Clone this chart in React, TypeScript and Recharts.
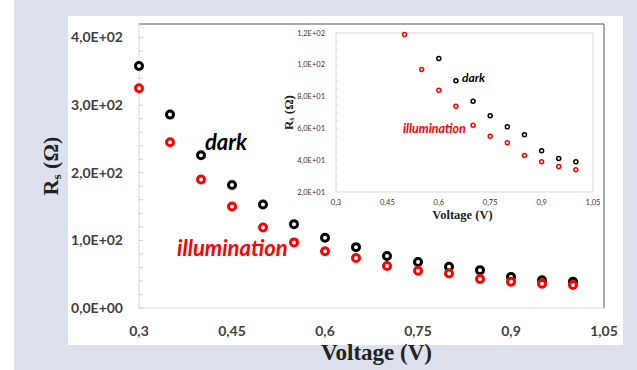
import { ScatterChart, Scatter, XAxis, YAxis, ReferenceLine, Label } from 'recharts';

const voltage = [0.3, 0.35, 0.4, 0.45, 0.5, 0.55, 0.6, 0.65, 0.7, 0.75, 0.8, 0.85, 0.9, 0.95, 1.0];
const rsDark = [358, 286, 226, 182, 153, 124, 104, 90, 77, 68, 61, 56, 46, 41, 39];
const rsIllum = [325, 245, 190, 150, 119, 97, 84, 74, 62, 55, 51, 43, 39, 36, 34];

const xTicks = [0.3, 0.45, 0.6, 0.75, 0.9, 1.05];
const yTicks = [0, 100, 200, 300, 400];
const yMinor = [0, 20, 40, 60, 80, 100, 120, 140, 160, 180, 200, 220, 240, 260, 280, 300, 320, 340, 360, 380, 400];
const insetYTicks = [20, 40, 60, 80, 100, 120];
const insetYMinor = [20, 25, 30, 35, 40, 45, 50, 55, 60, 65, 70, 75, 80, 85, 90, 95, 100, 105, 110, 115, 120];

const BG = '#dde1ee';
const SERIF = '"Liberation Serif", "Times New Roman", serif';
const SANS = 'Lato, "Open Sans", sans-serif';

const darkPts = voltage.map((v, i) => ({ x: v, y: rsDark[i] }));
const illumPts = voltage.map((v, i) => ({ x: v, y: rsIllum[i] }));
// inset shows only the zoomed range
const insetDark = darkPts.filter((p) => p.y <= 120);
const insetIllum = illumPts.filter((p) => p.y <= 120);

const fmtSci = (v: number) => {
  const [m, e] = v.toExponential(1).split('e');
  const n = parseInt(e, 10);
  return `${m.replace('.', ',')}E${n < 0 ? '-' : '+'}${String(Math.abs(n)).padStart(2, '0')}`;
};
const fmtX = (v: number) => String(v).replace('.', ',');

const ring = (color: string, r: number, w: number) => (p: any) => (
  <circle cx={p.cx} cy={p.cy} r={r} fill="#fff" stroke={color} strokeWidth={w} />
);

const RsLabel = ({ viewBox, dx, size }: any) => {
  const cx = viewBox.x + dx;
  const cy = viewBox.y + viewBox.height / 2;
  return (
    <text
      x={cx}
      y={cy}
      transform={`rotate(-90 ${cx} ${cy})`}
      textAnchor="middle"
      dominantBaseline="central"
      fontFamily={SERIF}
      fontWeight="bold"
      fontSize={size}
      fill="#222"
    >
      R<tspan fontSize={size * 0.6} dy={size * 0.25}>s</tspan>
      <tspan dy={-size * 0.25}> (Ω)</tspan>
    </text>
  );
};

const VoltLabel = ({ viewBox, dx, dy, size }: any) => (
  <text
    x={viewBox.x + viewBox.width / 2 + dx}
    y={viewBox.y + dy}
    textAnchor="middle"
    dominantBaseline="central"
    fontFamily={SERIF}
    fontWeight="bold"
    fontSize={size}
    fill="#222"
  >
    Voltage (V)
  </text>
);

const note = (text: string, left: number, cy: number, size: number, color: string) => (
  <div
    style={{
      position: 'absolute',
      left,
      top: cy - size * 0.6,
      fontFamily: SANS,
      fontStyle: 'italic',
      fontWeight: 700,
      fontSize: size,
      lineHeight: `${size * 1.2}px`,
      color,
      whiteSpace: 'nowrap',
    }}
  >
    {text}
  </div>
);

export default function App() {
  return (
    <div style={{ position: 'absolute', left: 0, top: 0, width: 637, height: 370, background: '#fff', overflow: 'hidden' }}>
      <div style={{ position: 'absolute', left: 14, top: 0, width: 623, height: 370, background: BG }} />
      <div style={{ position: 'absolute', left: 68, top: 16, width: 555, height: 329, background: '#fff' }} />

      <div style={{ position: 'absolute', left: 0, top: 0 }}>
        <ScatterChart width={637} height={370} margin={{ top: 24, right: 33, bottom: 0, left: 0 }}>
          <XAxis
            type="number"
            dataKey="x"
            domain={[0.3, 1.05]}
            ticks={xTicks}
            tickFormatter={fmtX}
            height={62}
            axisLine={{ stroke: '#d9d9d9' }}
            tickLine={false}
            tickSize={0}
            tickMargin={18}
            tick={{ fill: '#404040', fontSize: 14, fontWeight: 700, fontFamily: SANS }}
          >
            <Label content={<VoltLabel dx={5} dy={44} size={23} />} />
          </XAxis>
          <YAxis
            type="number"
            dataKey="y"
            domain={[0, 420]}
            ticks={yTicks}
            tickFormatter={fmtSci}
            width={139}
            axisLine={{ stroke: '#d9d9d9' }}
            tickLine={false}
            tickSize={0}
            tickMargin={16}
            tick={{ fill: '#404040', fontSize: 14, fontWeight: 700, fontFamily: SANS }}
          >
            <Label content={<RsLabel dx={50} size={22} />} />
          </YAxis>
          <YAxis
            yAxisId="minor"
            type="number"
            mirror
            domain={[0, 420]}
            allowDataOverflow
            ticks={yMinor}
            tickFormatter={() => ''}
            axisLine={false}
            tickLine={{ stroke: '#d0d0d0' }}
            tickSize={4}
          />
          <ReferenceLine y={420} stroke="#8c8c8c" strokeWidth={1.5} />
          <ReferenceLine x={1.05} stroke="#8c8c8c" strokeWidth={1.5} />
          <Scatter data={darkPts} isAnimationActive={false} shape={ring('#000', 3.5, 3)} />
          <Scatter data={illumPts} isAnimationActive={false} shape={ring('#ff0000', 3.5, 3)} />
        </ScatterChart>
      </div>

      <div style={{ position: 'absolute', left: 270, top: 24 }}>
        <ScatterChart width={335} height={210} margin={{ top: 9, right: 12, bottom: 0, left: 0 }}>
          <XAxis
            type="number"
            dataKey="x"
            domain={[0.3, 1.05]}
            ticks={xTicks}
            tickFormatter={fmtX}
            height={42}
            axisLine={{ stroke: '#d9d9d9' }}
            tickLine={false}
            tickSize={0}
            tickMargin={8}
            tick={{ fill: '#333', fontSize: 7.5, fontFamily: SANS }}
          >
            <Label content={<VoltLabel dx={-2} dy={23} size={12.5} />} />
          </XAxis>
          <YAxis
            type="number"
            dataKey="y"
            domain={[20, 120]}
            ticks={insetYTicks}
            tickFormatter={fmtSci}
            width={66}
            axisLine={{ stroke: '#d9d9d9' }}
            tickLine={false}
            tickSize={0}
            tickMargin={11}
            tick={{ fill: '#333', fontSize: 7.5, fontFamily: SANS }}
          >
            <Label content={<RsLabel dx={18} size={13} />} />
          </YAxis>
          <YAxis
            yAxisId="minor"
            type="number"
            mirror
            domain={[20, 120]}
            allowDataOverflow
            ticks={insetYMinor}
            tickFormatter={() => ''}
            axisLine={false}
            tickLine={{ stroke: '#e0e0e0' }}
            tickSize={2}
          />
          <ReferenceLine y={120} stroke="#d9d9d9" />
          <ReferenceLine x={1.05} stroke="#d9d9d9" />
          <Scatter data={insetDark} isAnimationActive={false} shape={ring('#000', 2, 1.5)} />
          <Scatter data={insetIllum} isAnimationActive={false} shape={ring('#ff0000', 2, 1.5)} />
        </ScatterChart>
      </div>

      {note('dark', 205, 142, 22, '#000')}
      {note('illumination', 177, 248, 22, '#ff0000')}
      {note('dark', 462, 78, 12, '#000')}
      {note('illumination', 403, 128, 12.5, '#ff0000')}
    </div>
  );
}
